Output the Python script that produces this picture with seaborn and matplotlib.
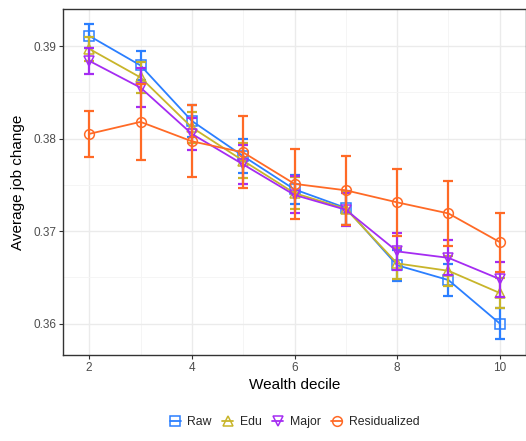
import numpy as np
import pandas as pd
import matplotlib
matplotlib.use("Agg")
import matplotlib.pyplot as plt
from matplotlib.lines import Line2D
import seaborn as sns

deciles = [2, 3, 4, 5, 6, 7, 8, 9, 10]
series_names = ["Raw", "Edu", "Major", "Residualized"]

raw_mean = [0.3911, 0.3879, 0.3819, 0.3781, 0.3745, 0.3725, 0.3663, 0.3647, 0.3600]
raw_err = [0.0013, 0.0016, 0.0017, 0.0018, 0.0016, 0.0018, 0.0017, 0.0017, 0.0017]
edu_mean = [0.3897, 0.3866, 0.3812, 0.3776, 0.3741, 0.3724, 0.3665, 0.3657, 0.3633]
edu_err = [0.0013, 0.0017, 0.0017, 0.0019, 0.0017, 0.0018, 0.0017, 0.0016, 0.0016]
major_mean = [0.3884, 0.3855, 0.3805, 0.3772, 0.3739, 0.3723, 0.3678, 0.3671, 0.3648]
major_err = [0.0014, 0.0021, 0.0017, 0.0021, 0.0020, 0.0018, 0.0020, 0.0019, 0.0019]
resid_mean = [0.3805, 0.3818, 0.3797, 0.3785, 0.3751, 0.3744, 0.3731, 0.3719, 0.3688]
resid_err = [0.0025, 0.0041, 0.0039, 0.0039, 0.0038, 0.0037, 0.0036, 0.0035, 0.0032]

means = {"Raw": raw_mean, "Edu": edu_mean, "Major": major_mean, "Residualized": resid_mean}
errs = {"Raw": raw_err, "Edu": edu_err, "Major": major_err, "Residualized": resid_err}

colors = {"Raw": "#2b7fff", "Edu": "#c8b52a", "Major": "#a52cf2", "Residualized": "#ff6a26"}
markers = {"Raw": "s", "Edu": "^", "Major": "v", "Residualized": "o"}

rows = []
for s in series_names:
    for d, m, e in zip(deciles, means[s], errs[s]):
        rows.append({"decile": d, "value": m, "err": e, "series": s})
df = pd.DataFrame(rows)

sns.set_theme(style="whitegrid")
plt.rcParams["font.family"] = ["Liberation Sans", "DejaVu Sans"]

fig = plt.figure(figsize=(5.26, 4.41), dpi=100)
ax = fig.add_axes([63 / 526, 1 - 355 / 441, 1 - 63 / 526, (355 - 9) / 441])

for s in series_names:
    sub = df[df["series"] == s]
    c = colors[s]
    sns.lineplot(data=sub, x="decile", y="value", ax=ax, color=c, linewidth=1.3,
                 marker=markers[s], markersize=7, markerfacecolor="none",
                 markeredgecolor=c, markeredgewidth=1.1, legend=False, zorder=3)
    ax.errorbar(sub["decile"], sub["value"], yerr=sub["err"], fmt="none",
                ecolor=c, elinewidth=1.6, capsize=3.6, capthick=1.6, zorder=3)

ax.set_xlim(1.49, 10.51)
ax.set_ylim(0.3566, 0.3940)
ax.set_xticks([2, 4, 6, 8, 10])
ax.set_yticks([0.36, 0.37, 0.38, 0.39])
ax.set_xticks([3, 5, 7, 9], minor=True)
ax.set_yticks([0.365, 0.375, 0.385], minor=True)
ax.set_xticklabels(["2", "4", "6", "8", "10"])
ax.set_yticklabels(["0.36", "0.37", "0.38", "0.39"])

ax.set_facecolor("white")
ax.grid(which="major", color="#ebebeb", linewidth=1.0)
ax.grid(which="minor", color="#f4f4f4", linewidth=0.6)
ax.set_axisbelow(True)
for sp in ax.spines.values():
    sp.set_visible(True)
    sp.set_color("#333333")
    sp.set_linewidth(1.0)

ax.tick_params(axis="both", which="major", length=3, width=0.8, color="#333333",
               labelsize=8.5, labelcolor="#4d4d4d", pad=2, bottom=True, left=True)
ax.tick_params(axis="both", which="minor", length=0)

ax.set_xlabel("Wealth decile", fontsize=11, color="black", labelpad=3)
ax.set_ylabel("Average job change", fontsize=11, color="black", labelpad=6)

handles = [Line2D([0], [0], color=colors[s], marker=markers[s], markersize=7,
                  markerfacecolor="none", markeredgecolor=colors[s], linewidth=1.3,
                  markeredgewidth=1.1) for s in series_names]
leg = fig.legend(handles, series_names, loc="center", bbox_to_anchor=((63 + 526) / 2 / 526, 1 - 422 / 441),
                 ncol=4, frameon=False, fontsize=8.8, handlelength=0.9, handletextpad=0.5,
                 columnspacing=0.9)

fig.savefig("out.png", dpi=100, facecolor="white")
